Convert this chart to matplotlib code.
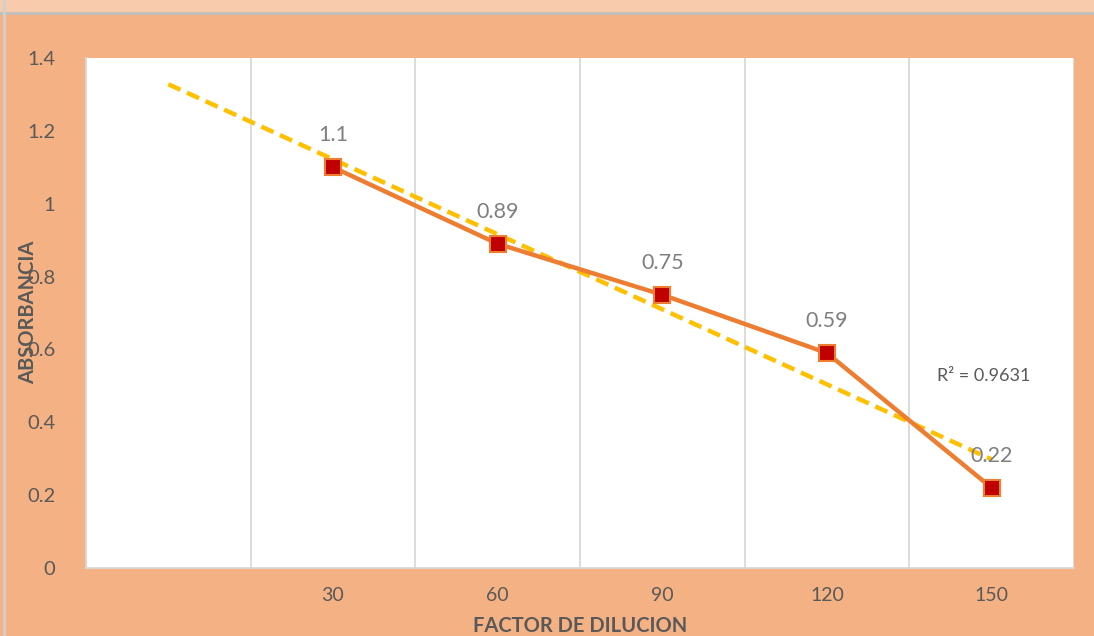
import numpy as np
import matplotlib.pyplot as plt
from matplotlib.patches import Rectangle
from matplotlib.lines import Line2D

# data
categories = ["", "30", "60", "90", "120", "150"]
absorbancia = [None, 1.1, 0.89, 0.75, 0.59, 0.22]
r2_text = "R² = 0.9631"
y_ticks = [0, 0.2, 0.4, 0.6, 0.8, 1.0, 1.2, 1.4]
y_tick_labels = ["0", "0.2", "0.4", "0.6", "0.8", "1", "1.2", "1.4"]

plt.rcParams['font.family'] = ['Lato', 'DejaVu Sans']

BG = '#F4B183'
LINE = '#ED7D31'
MARK = '#C00000'
TREND = '#FFC000'
TXT = '#595959'
LBL = '#7F7F7F'

fig = plt.figure(figsize=(10.94, 6.36), dpi=100)
fig.patch.set_facecolor(BG)

# lighter strip at the top + thin grey border lines
fig.add_artist(Rectangle((0, 1 - 12 / 636), 1, 12 / 636, transform=fig.transFigure,
                         facecolor='#F8CBAD', edgecolor='none', zorder=0))
fig.add_artist(Line2D([0, 1], [1 - 13 / 636] * 2, transform=fig.transFigure,
                      color='#BFBFBF', lw=2))
fig.add_artist(Line2D([4 / 1094] * 2, [0, 1], transform=fig.transFigure,
                      color='#D0D0D0', lw=2))

ax = fig.add_axes([86 / 1094, 1 - 568 / 636, (1074 - 86) / 1094, (568 - 58) / 636])
ax.set_facecolor('white')

pos = np.arange(len(categories))
xs = np.array([p for p, v in zip(pos, absorbancia) if v is not None])
ys = np.array([v for v in absorbancia if v is not None])

# vertical gridlines at category boundaries
for b in np.arange(len(categories) + 1) - 0.5:
    ax.axvline(b, color='#D9D9D9', lw=1.3, zorder=1)

# linear trend (Excel style, on category index)
k, c = np.polyfit(xs, ys, 1)
tx = np.array([pos[0], pos[-1]])
ax.plot(tx, k * tx + c, color=TREND, lw=3.2, ls=(0, (3, 1.6)), zorder=3)

ax.plot(xs, ys, color=LINE, lw=3.2, zorder=4,
        marker='s', markersize=11, markerfacecolor=MARK,
        markeredgecolor=LINE, markeredgewidth=1.5)

for x, y in zip(xs, ys):
    ax.annotate(f"{y:g}", (x, y), xytext=(0, 16), textcoords='offset points',
                ha='center', va='bottom', fontsize=15.5, color=LBL, zorder=5)

ax.text(4.95, 0.505, r2_text, fontsize=13, color=TXT, ha='center', va='bottom')

ax.set_xlim(-0.5, len(categories) - 0.5)
ax.set_ylim(0, 1.4)
ax.set_xticks(pos)
ax.set_xticklabels(categories, fontsize=14, color=TXT)
ax.tick_params(axis='x', length=0, pad=14)
ax.set_yticks(y_ticks)
ax.set_yticklabels(y_tick_labels, fontsize=14.5, color=TXT)
ax.tick_params(axis='y', length=0, pad=22)

for s in ['top', 'right']:
    ax.spines[s].set_visible(False)
ax.spines['left'].set_color('#D9D9D9')
ax.spines['bottom'].set_color('#D9D9D9')
ax.spines['left'].set_linewidth(1.3)
ax.spines['bottom'].set_linewidth(1.3)

fig.text(28 / 1094, 1 - 312 / 636, "ABSORBANCIA", rotation=90, ha='center', va='center',
         fontsize=14.5, fontweight='bold', color=TXT)
fig.text(580 / 1094, 1 - 626 / 636, "FACTOR DE DILUCION", ha='center', va='center',
         fontsize=14.5, fontweight='bold', color=TXT)

fig.savefig('out.png', dpi=100, facecolor=BG)
